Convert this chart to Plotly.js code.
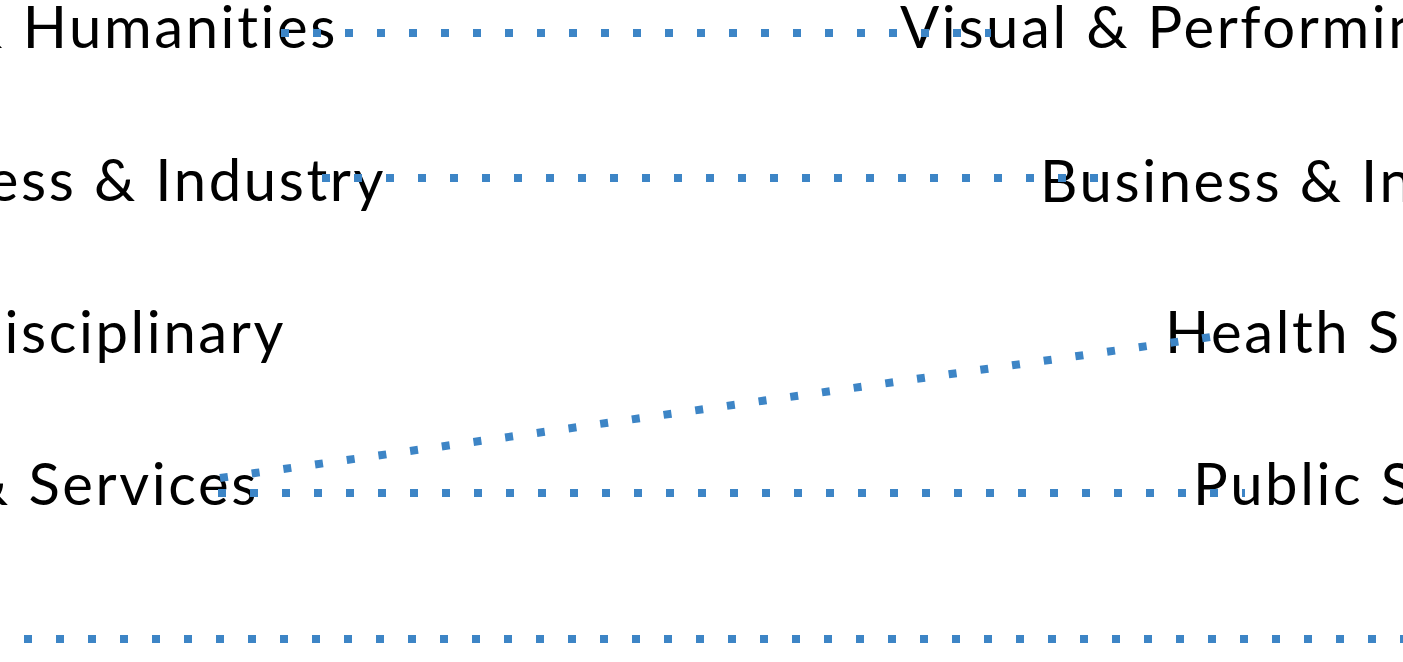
<!DOCTYPE html>
<html>
<head>
<meta charset="utf-8">
<script src="https://cdn.plot.ly/plotly-3.0.1.min.js"></script>
<style>
html,body{margin:0;padding:0;background:#fff;overflow:hidden}
#chart{width:1403px;height:662px}
#chart .textpoint text{letter-spacing:2.6px;font-variant-ligatures:none;font-feature-settings:"liga" 0}
</style>
</head>
<body>
<div id="chart"></div>
<script>
// Left column labels (right-aligned at their end position)
var leftLabels = ["Arts & Humanities", "Business & Industry", "Multidisciplinary", "Public Safety & Services"];
var leftLabelX = [338, 386, 286, 259];
var leftLabelY = [33, 186, 338, 490];

// Right column labels (left-aligned at their start position)
var rightLabels = ["Visual & Performing Arts", "Business & Industry", "Health Science", "Public Service"];
var rightLabelX = [900, 1040, 1165, 1193];
var rightLabelY = [33, 187, 338, 490];

// Links between the two columns
var linkX0 = [281, 322, 220, 218, -8];
var linkY0 = [33, 178, 478, 493, 639];
var linkX1 = [991, 1098, 1211, 1245, 1420];
var linkY1 = [33, 178, 337, 493, 639];

var lineColor = "#3d85c6";
var fontFamily = "Lato, 'Open Sans', sans-serif";
var fontSize = 58;

var traces = [];
traces.push({
  type: "scatter", mode: "text", x: leftLabelX, y: leftLabelY, text: leftLabels,
  textposition: "middle left", cliponaxis: false, hoverinfo: "skip",
  textfont: {family: fontFamily, size: fontSize, color: "#000"}
});
traces.push({
  type: "scatter", mode: "text", x: rightLabelX, y: rightLabelY, text: rightLabels,
  textposition: "middle right", cliponaxis: false, hoverinfo: "skip",
  textfont: {family: fontFamily, size: fontSize, color: "#000"}
});
for (var i = 0; i < linkX0.length; i++) {
  traces.push({
    type: "scatter", mode: "lines", x: [linkX0[i], linkX1[i]], y: [linkY0[i], linkY1[i]],
    line: {color: lineColor, width: 8, dash: "8px,24px"}, hoverinfo: "skip", cliponaxis: true
  });
}

var layout = {
  width: 1403, height: 662,
  margin: {l: 0, r: 0, t: 0, b: 0, pad: 0},
  paper_bgcolor: "#fff", plot_bgcolor: "#fff",
  showlegend: false,
  xaxis: {range: [0, 1403], visible: false, fixedrange: true},
  yaxis: {range: [662, 0], visible: false, fixedrange: true}
};
Plotly.newPlot("chart", traces, layout, {staticPlot: true, displayModeBar: false});
</script>
</body>
</html>
